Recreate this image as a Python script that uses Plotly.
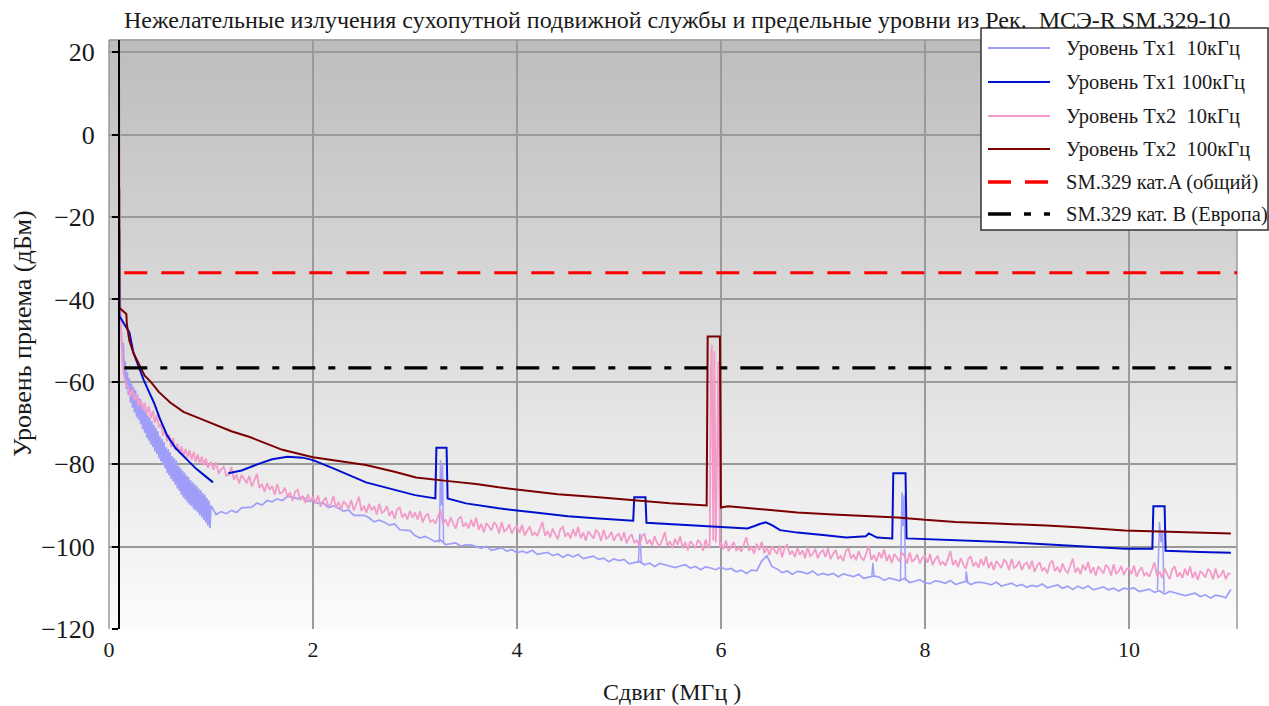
import plotly.graph_objects as go

# ---------------- DATA ----------------
title_text = "Нежелательные излучения сухопутной подвижной службы и предельные уровни из Рек.  МСЭ-R SM.329-10"
x_title = "Сдвиг (МГц )"
y_title = "Уровень приема (дБм)"
series_names = ["Уровень Tx1\u00a0\u00a010кГц", "Уровень Tx1 100кГц", "Уровень Tx2\u00a0\u00a010кГц",
                "Уровень Tx2\u00a0\u00a0100кГц", "SM.329 кат.A (общий)", "SM.329 кат. B (Европа)"]
x_ticks = [0, 2, 4, 6, 8, 10]
y_ticks = [20, 0, -20, -40, -60, -80, -100, -120]
y_ticktext = ["20", "0", "\u221220", "\u221240", "\u221260", "\u221280", "\u2212100", "\u2212120"]

# limit lines (dBm)
sm329_a_level = -33.5
sm329_b_level = -56.6
limit_x = [0.15, 11.06]

# Tx1 10 kHz (light blue): start, dense part 0.14..1.00 (step 0.01), main part 1.05..11.00 (step 0.05)
tx1_10k_start_x = [0.100, 0.101, 0.103, 0.106, 0.11, 0.115, 0.12, 0.125, 0.13]
tx1_10k_start_y = [13.5, -5, -18, -30, -40, -46, -49, -51.5, -52.5]
tx1_10k_dense_y = [
    -50.5, -58.4, -55.0, -61.8, -57.6, -63.2, -59.1, -65.0, -60.4, -66.3,
    -61.2, -67.4, -62.0, -68.6, -63.1, -69.2, -64.0, -70.3, -65.2, -71.5,
    -66.4, -72.4, -67.0, -73.6, -68.1, -74.3, -68.7, -75.2, -69.5, -75.8,
    -70.4, -76.9, -71.1, -77.5, -72.0, -78.6, -73.2, -79.3, -73.8, -80.2,
    -74.6, -81.0, -75.9, -82.1, -76.3, -82.7, -77.1, -83.6, -78.0, -84.2,
    -78.5, -85.0, -79.1, -85.9, -80.4, -86.5, -80.8, -87.4, -81.5, -88.1,
    -82.0, -88.6, -82.7, -89.3, -83.1, -89.8, -83.9, -90.2, -84.3, -90.9,
    -84.8, -91.3, -85.3, -91.7, -85.9, -92.4, -86.3, -92.9, -87.0, -93.6,
    -87.4, -94.2, -88.2, -94.9, -88.8, -95.5, -90.0]
tx1_10k_main_y = [
    -92.2, -91.5, -92.0, -91.2, -91.7, -90.6, -90.5, -90.4, -89.4, -89.9,
    -88.8, -89.1, -88.4, -88.8, -87.8, -88.0, -88.4, -87.9, -89.0, -88.8,
    -89.5, -89.4, -90.5, -90.1, -90.7, -91.4, -91.1, -92.4, -92.4, -92.4,
    -93.0, -94.0, -93.6, -94.1, -94.8, -94.5, -95.9, -96.0, -96.1, -97.3,
    -97.9, -97.5, -98.1, -98.8, -98.4, -99.5, -99.3, -99.1, -99.9, -99.6,
    -99.6, -100.0, -100.4, -99.9, -100.9, -100.6, -100.3, -101.1, -100.7, -101.5,
    -101.1, -101.5, -100.9, -101.9, -101.7, -101.4, -102.2, -101.8, -102.6, -101.9,
    -102.5, -101.9, -102.9, -102.6, -102.3, -103.1, -102.8, -103.7, -103.0, -103.4,
    -103.1, -104.2, -103.9, -103.6, -104.4, -104.0, -104.8, -104.1, -104.4, -104.8,
    -105.1, -104.7, -104.4, -105.2, -104.8, -105.6, -104.9, -105.2, -105.6, -105.0,
    -105.6, -105.3, -106.1, -105.7, -106.5, -105.7, -105.9, -103.5, -102.2, -104.8,
    -105.4, -106.3, -105.9, -106.7, -106.0, -106.2, -106.6, -105.9, -106.9, -106.5,
    -106.9, -106.5, -107.3, -106.6, -106.9, -107.3, -106.7, -107.7, -107.4, -107.1,
    -107.4, -108.2, -107.6, -107.9, -108.3, -107.7, -108.7, -108.4, -108.0, -108.8,
    -109.0, -108.3, -108.5, -108.9, -108.2, -109.2, -108.8, -108.4, -109.2, -108.7,
    -108.7, -108.9, -109.3, -108.6, -109.6, -109.2, -108.9, -109.6, -109.2, -109.9,
    -109.4, -109.7, -109.1, -110.0, -109.7, -109.3, -110.1, -109.6, -110.4, -109.6,
    -110.2, -109.5, -110.5, -110.1, -109.8, -110.5, -110.1, -110.8, -110.1, -110.3,
    -110.0, -110.9, -110.6, -110.3, -111.1, -110.7, -111.5, -110.9, -111.2, -111.6,
    -111.9, -111.6, -111.3, -112.1, -111.7, -112.5, -111.8, -112.0, -112.4, -110.4]
tx1_10k_spike_x = [3.24, 3.25, 3.26, 3.27, 3.28, None, 5.19, 5.205, 5.22, None,
                   7.48, 7.49, 7.50, None, 7.76, 7.775, 7.785, 7.795, 7.81, None,
                   8.40, 8.405, 8.42, None, 10.28, 10.30, 10.315, 10.33, 10.345]
tx1_10k_spike_y = [-99.0, -79.0, -90.0, -80.0, -99.0, None, -104.0, -96.8, -104.0, None,
                   -107.1, -104.0, -107.1, None, -108.3, -86.8, -95.0, -87.5, -108.2, None,
                   -108.6, -106.0, -108.7, None, -110.6, -94.0, -99.0, -96.0, -111.0]

# Tx1 100 kHz (blue)
tx1_100k_x = [0.100, 0.102, 0.15, 0.20, 0.24, 0.29, 0.34, 0.39, 0.44, 0.50, 0.57, 0.65, 0.73, 0.85,
              0.95, 1.02, None, 1.17, 1.30, 1.48, 1.60, 1.75, 1.90, 2.00, 2.20, 2.52, 2.80, 3.00,
              3.20, 3.21, 3.31, 3.32, 3.50, 3.82, 4.20, 4.50, 4.80, 5.14, 5.15, 5.26, 5.27, 5.50,
              5.77, 6.00, 6.26, 6.33, 6.38, 6.44, 6.50, 6.58, 6.75, 7.00, 7.23, 7.42, 7.45, 7.53,
              7.68, 7.69, 7.81, 7.82, 8.20, 8.70, 9.00, 9.50, 9.96, 10.23, 10.24, 10.35, 10.36,
              10.70, 11.00]
tx1_100k_y = [-23, -44, -46, -48, -53, -56.5, -59.5, -62.3, -65, -69, -73, -76, -78, -81,
              -83, -84.4, None, -82.2, -81.5, -79.8, -78.8, -78.2, -78.4, -79, -81, -84.4, -86.2, -87.5,
              -88.3, -76, -76, -88.3, -89.5, -90.7, -91.8, -92.6, -93.2, -93.7, -88, -88, -94.2, -94.5,
              -95, -95.3, -95.6, -95, -94.5, -94.1, -94.8, -96, -96.6, -97.2, -97.8, -97.5, -96.8, -97.8,
              -98, -82.2, -82.2, -98, -98.3, -98.8, -99.2, -99.8, -100.5, -100.5, -90.2, -90.2, -101,
              -101.3, -101.5]

# Tx2 10 kHz (pink): start part, 1.000..5.875 (step 0.025), spike near 5.9 MHz, 6.000..11.000 (step 0.025)
tx2_10k_start_x = [0.100, 0.101, 0.103, 0.106, 0.11, 0.115, 0.12, 0.13, 0.14, 0.15,
                   0.17, 0.19, 0.21, 0.23, 0.25, 0.27, 0.29, 0.31, 0.33, 0.35,
                   0.37, 0.39, 0.41, 0.43, 0.45, 0.47, 0.49, 0.51, 0.53, 0.55,
                   0.57, 0.59, 0.61, 0.63, 0.65, 0.67, 0.69, 0.71, 0.73, 0.75,
                   0.77, 0.79, 0.81, 0.83, 0.85, 0.87, 0.89, 0.91, 0.93, 0.95, 0.97]
tx2_10k_start_y = [18.5, 5, -15, -28, -38, -45, -50, -55, -57.5, -59,
                   -60.5, -61.5, -63.5, -61.8, -64.5, -63.0, -66.0, -64.2, -66.8, -65.1,
                   -67.9, -66.0, -68.8, -67.1, -69.9, -68.0, -71.0, -70.3, -73.1, -71.5,
                   -74.4, -72.8, -75.9, -73.6, -76.6, -75.0, -77.5, -75.6, -78.1, -76.3,
                   -78.3, -76.6, -78.9, -77.0, -79.4, -77.6, -79.8, -78.1, -80.2, -78.6, -80.9]
tx2_10k_a_y = [
    -79.4, -81.3, -79.5, -82.3, -81.2, -80.6, -82.8, -82.5,
    -80.7, -83.7, -82.5, -84.6, -82.6, -83.5, -84.6, -82.8,
    -85.4, -83.9, -82.3, -85.8, -84.8, -86.7, -84.6, -86.2,
    -85.3, -87.4, -84.8, -87.1, -86.8, -85.7, -88.0, -86.8,
    -88.9, -86.7, -86.2, -88.7, -87.9, -89.4, -87.3, -89.1,
    -87.9, -89.6, -87.6, -90.3, -88.9, -88.1, -90.2, -89.7,
    -87.7, -90.6, -89.1, -91.1, -89.0, -89.7, -90.7, -88.7,
    -91.2, -89.6, -87.9, -91.3, -90.1, -91.8, -89.6, -91.2,
    -90.2, -92.2, -89.6, -91.8, -91.4, -90.2, -92.5, -91.3,
    -93.3, -91.0, -90.4, -92.9, -92.0, -93.4, -91.3, -93.0,
    -91.7, -93.4, -91.4, -94.1, -92.7, -91.9, -94.0, -93.5,
    -94.4, -92.8, -91.1, -94.5, -93.4, -95.1, -92.9, -94.4,
    -95.6, -93.3, -92.7, -95.2, -94.2, -95.6, -93.5, -95.2,
    -93.0, -95.9, -94.5, -96.5, -94.3, -95.1, -96.1, -94.1,
    -94.8, -96.8, -94.1, -96.3, -95.8, -94.6, -96.8, -95.5,
    -95.1, -96.7, -94.7, -97.3, -96.0, -95.1, -97.2, -96.6,
    -97.4, -95.8, -94.0, -97.4, -96.2, -97.8, -95.6, -97.0,
    -98.2, -95.8, -95.2, -97.6, -96.6, -98.0, -95.8, -97.5,
    -95.2, -98.0, -96.6, -98.5, -96.3, -97.1, -98.0, -96.0,
    -96.6, -98.6, -95.9, -98.1, -97.6, -96.4, -98.6, -97.3,
    -96.9, -98.6, -96.5, -99.2, -97.8, -97.0, -99.0, -98.5,
    -99.8, -97.5, -96.8, -99.3, -98.3, -99.7, -97.5, -99.2,
    -99.9, -98.3, -96.5, -99.9, -98.7, -100.4, -98.1, -99.6,
    -97.5, -100.4, -98.9, -100.9, -98.7, -99.5, -100.4, -98.4,
    -99.1, -101.0, -98.3, -100.4]
tx2_10k_spike_x = [5.89, 5.90, 5.91, 5.925, 5.935, 5.95, 5.975, 5.99]
tx2_10k_spike_y = [-99.5, -57.0, -51.0, -98.5, -52.5, -99.0, -55.0, -100.2]
tx2_10k_b_y = [
    -99.0, -100.6, -98.5, -101.1, -99.8, -98.9, -100.9, -100.3,
    -101.2, -99.5, -97.7, -101.0, -100.0, -101.7, -99.3, -100.9,
    -98.8, -101.6, -100.1, -102.1, -99.9, -100.8, -101.8, -99.7,
    -102.6, -100.2, -99.5, -102.0, -101.0, -102.5, -100.3, -102.0,
    -100.9, -102.8, -100.1, -102.3, -101.8, -100.5, -102.8, -101.4,
    -100.9, -102.5, -100.4, -103.1, -101.7, -100.8, -102.9, -102.3,
    -103.5, -101.1, -100.4, -102.9, -101.9, -103.3, -101.1, -102.7,
    -103.3, -101.6, -99.8, -103.2, -102.0, -103.6, -101.4, -102.8,
    -100.7, -103.5, -102.0, -104.0, -101.8, -102.7, -103.6, -101.5,
    -102.2, -104.1, -101.4, -103.6, -103.1, -101.9, -104.1, -102.7,
    -102.3, -103.9, -101.8, -104.5, -103.1, -102.2, -104.3, -103.7,
    -104.6, -102.9, -101.1, -104.5, -103.3, -105.0, -102.8, -104.2,
    -105.4, -103.0, -102.3, -104.8, -103.8, -105.1, -103.0, -104.6,
    -102.4, -105.2, -103.7, -105.7, -103.5, -104.3, -105.2, -103.1,
    -103.8, -105.7, -103.0, -105.2, -104.7, -103.5, -105.7, -104.3,
    -103.9, -105.5, -103.4, -106.1, -104.7, -103.8, -105.8, -105.2,
    -106.5, -104.1, -103.4, -105.9, -105.0, -106.3, -104.1, -105.7,
    -106.4, -104.7, -102.9, -106.3, -105.1, -106.7, -104.4, -105.8,
    -103.7, -106.5, -105.0, -107.0, -104.8, -105.6, -106.5, -104.4,
    -105.1, -107.0, -104.3, -106.5, -106.0, -104.7, -106.9, -105.5,
    -105.1, -106.7, -104.6, -107.3, -105.9, -105.0, -107.0, -106.4,
    -107.3, -105.6, -103.8, -107.2, -106.0, -107.6, -105.3, -106.7,
    -107.9, -105.5, -104.8, -107.3, -106.3, -107.6, -105.4, -107.0,
    -104.8, -107.6, -106.1, -108.1, -105.9, -106.6, -107.5, -105.4,
    -106.1, -108.0, -105.3, -107.5, -107.0, -105.7, -107.9, -106.5,
    -106.6]

# Tx2 100 kHz (dark red)
tx2_100k_x = [0.100, 0.102, 0.17, 0.175, 0.20, 0.24, 0.30, 0.35, 0.41, 0.49, 0.60, 0.73, 0.90,
              1.06, 1.20, 1.38, 1.55, 1.70, 2.00, 2.25, 2.52, 2.80, 3.01, 3.33, 3.60, 3.82, 4.10,
              4.40, 4.80, 5.15, 5.50, 5.86, 5.87, 5.99, 6.00, 6.07, 6.40, 6.75, 7.10, 7.40, 7.73,
              8.00, 8.30, 8.70, 9.00, 9.19, 9.50, 9.96, 10.30, 10.60, 11.00]
tx2_100k_y = [-13, -42, -43.5, -46, -50, -53, -56, -58.5, -60, -62.5, -65, -67.3, -69,
              -70.5, -72, -73.4, -75, -76.5, -78.3, -79.3, -80.2, -81.8, -83.2, -84.1, -84.8, -85.6, -86.5,
              -87.3, -88, -88.8, -89.5, -90, -49, -49, -90.5, -90.2, -91, -91.7, -92.2, -92.6, -92.9,
              -93.5, -94, -94.4, -94.6, -94.9, -95.3, -96.1, -96.3, -96.5, -96.8]

# ---------------- BUILD ----------------
def grid(start, step, n):
    return [round(start + step * i, 4) for i in range(n)]

tx1_10k_x = (tx1_10k_start_x + grid(0.14, 0.01, len(tx1_10k_dense_y))
             + grid(1.05, 0.05, len(tx1_10k_main_y)))
tx1_10k_y = tx1_10k_start_y + tx1_10k_dense_y + tx1_10k_main_y

tx2_10k_x = (tx2_10k_start_x + grid(1.00, 0.025, len(tx2_10k_a_y)) + tx2_10k_spike_x
             + grid(6.00, 0.025, len(tx2_10k_b_y)))
tx2_10k_y = tx2_10k_start_y + tx2_10k_a_y + tx2_10k_spike_y + tx2_10k_b_y

C_TX1_10 = "#9e9ef8"
C_TX1_100 = "#0010cc"
C_TX2_10 = "#f49ac8"
C_TX2_100 = "#7a0000"
C_A = "#ff0000"
C_B = "#000000"
DASH_A = "23px,14px"
DASH_B = "23px,13px,7px,13px"
SERIF = "Liberation Serif, Times New Roman, serif"

fig = go.Figure()
fig.add_trace(go.Scatter(x=tx1_10k_x, y=tx1_10k_y, mode="lines", line=dict(color=C_TX1_10, width=1.7),
                         name=series_names[0], showlegend=False))
fig.add_trace(go.Scatter(x=tx1_10k_spike_x, y=tx1_10k_spike_y, mode="lines",
                         line=dict(color=C_TX1_10, width=1.5), showlegend=False, connectgaps=False))
fig.add_trace(go.Scatter(x=tx2_10k_x, y=tx2_10k_y, mode="lines", line=dict(color=C_TX2_10, width=1.8),
                         name=series_names[2], showlegend=False))
fig.add_trace(go.Scatter(x=tx1_100k_x, y=tx1_100k_y, mode="lines", line=dict(color=C_TX1_100, width=2),
                         name=series_names[1], showlegend=False, connectgaps=False))
fig.add_trace(go.Scatter(x=tx2_100k_x, y=tx2_100k_y, mode="lines", line=dict(color=C_TX2_100, width=2),
                         name=series_names[3], showlegend=False))
fig.add_trace(go.Scatter(x=limit_x, y=[sm329_a_level] * 2, mode="lines",
                         line=dict(color=C_A, width=3, dash=DASH_A), name=series_names[4], showlegend=False))
fig.add_trace(go.Scatter(x=limit_x, y=[sm329_b_level] * 2, mode="lines",
                         line=dict(color=C_B, width=3.3, dash=DASH_B), name=series_names[5], showlegend=False))

# geometry (pixels of the 1269x706 page)
W, H = 1269, 706
L, R, T, B = 109, 32, 40, 77
PW, PH = W - L - R, H - T - B
def px(xp):
    return (xp - L) / PW
def py(yp):
    return (T + PH - yp) / PH

shapes = []
# vertical gradient background
nb = 80
for i in range(nb):
    f = i / (nb - 1)
    g = int(round(189 + (251 - 189) * f))
    shapes.append(dict(type="rect", xref="paper", yref="paper", x0=0, x1=1,
                       y0=1 - (i + 1) / nb, y1=1 - i / nb + 0.001,
                       fillcolor=f"rgb({g},{g},{g})", line=dict(width=0), layer="below"))
# frame
for (x0, y0, x1, y1) in [(0, 0, 0, 1), (0, 1, 1, 1), (1, 0, 1, 1)]:
    shapes.append(dict(type="line", xref="paper", yref="paper", x0=x0, y0=y0, x1=x1, y1=y1,
                       line=dict(color="#9a9a9a", width=1.5), layer="below"))

# manual legend
shapes.append(dict(type="rect", xref="paper", yref="paper", x0=px(981), x1=px(1268),
                   y0=py(230), y1=py(28), fillcolor="white", line=dict(color="#333333", width=1.5),
                   layer="above"))
leg_rows = [48, 82, 116, 149, 182, 214]
leg_styles = [dict(color=C_TX1_10, width=2), dict(color=C_TX1_100, width=2),
              dict(color=C_TX2_10, width=2), dict(color=C_TX2_100, width=2),
              dict(color=C_A, width=3.5, dash=DASH_A), dict(color=C_B, width=3.5, dash=DASH_B)]
annotations = []
for ry, st, nm in zip(leg_rows, leg_styles, series_names):
    shapes.append(dict(type="line", xref="paper", yref="paper", x0=px(988), x1=px(1050),
                       y0=py(ry), y1=py(ry), line=st, layer="above"))
    annotations.append(dict(text=nm, xref="paper", yref="paper", x=px(1064), y=py(ry),
                            xanchor="left", yanchor="middle", showarrow=False,
                            font=dict(family=SERIF, size=20.5, color="#1a1a1a")))

annotations.append(dict(text=title_text, xref="paper", yref="paper", x=px(677), y=py(20),
                        xanchor="center", yanchor="middle", showarrow=False,
                        font=dict(family=SERIF, size=24, color="#1a1a1a")))
annotations.append(dict(text=y_title, xref="paper", yref="paper", x=px(22), y=py(334),
                        xanchor="center", yanchor="middle", showarrow=False, textangle=-90,
                        font=dict(family=SERIF, size=26, color="#1a1a1a")))
annotations.append(dict(text=x_title, xref="paper", yref="paper", x=px(672), y=py(692),
                        xanchor="center", yanchor="middle", showarrow=False,
                        font=dict(family=SERIF, size=24, color="#1a1a1a")))

fig.update_layout(
    width=W, height=H, margin=dict(l=L, r=R, t=T, b=B, pad=0),
    paper_bgcolor="white", plot_bgcolor="white",
    showlegend=False, shapes=shapes, annotations=annotations,
    xaxis=dict(range=[0, 11.06], tickvals=x_ticks, ticktext=[str(v) for v in x_ticks],
               showgrid=True, gridcolor="#9a9a9a", gridwidth=1.5, zeroline=False, showline=False,
               ticks="", ticklabelstandoff=5, tickfont=dict(family=SERIF, size=22, color="#1a1a1a")),
    yaxis=dict(range=[-120, 23], tickvals=y_ticks, ticktext=y_ticktext, anchor="free",
               position=px(119), showline=True, linecolor="black", linewidth=2,
               ticks="outside", ticklen=6, tickwidth=2, tickcolor="black",
               showgrid=True, gridcolor="#9a9a9a", gridwidth=1.5, zeroline=False,
               ticklabelstandoff=12, tickfont=dict(family=SERIF, size=26, color="#1a1a1a")),
)

fig.write_html("out.html")
